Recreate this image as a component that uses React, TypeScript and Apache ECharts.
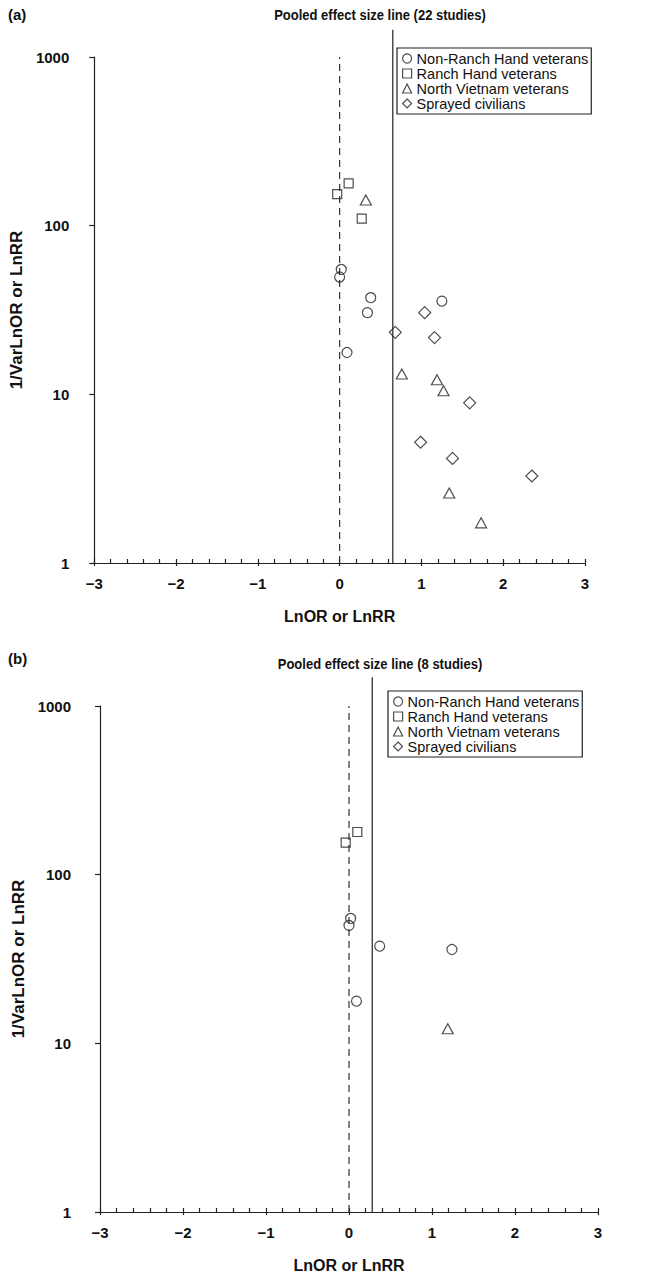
import React, { useEffect, useRef } from "react";
import * as echarts from "echarts";

// ---- data (LnOR/LnRR, 1/Var) ----
const nonRanchA = [[0.02, 55], [0.0, 49.6], [0.38, 37.4], [0.34, 30.5], [1.25, 35.7], [0.09, 17.7]];
const ranchA = [[0.11, 178], [-0.03, 154], [0.27, 110]];
const northA = [[0.32, 142], [0.76, 13.2], [1.19, 12.2], [1.27, 10.5], [1.34, 2.6], [1.73, 1.73]];
const sprayedA = [[1.04, 30.5], [0.68, 23.3], [1.16, 21.7], [1.59, 8.9], [0.99, 5.2], [1.38, 4.17], [2.35, 3.28]];

const nonRanchB = [[0.02, 55], [0.0, 50], [0.37, 37.7], [1.24, 36], [0.09, 17.8]];
const ranchB = [[0.1, 179], [-0.04, 155]];
const northB = [[1.19, 12.2]];
const sprayedB: number[][] = [];

const pooledA = 0.65;
const pooledB = 0.28;
const pooledTopA = 1450;
const pooledTopB = 1480;

const groupNames = ["Non-Ranch Hand veterans", "Ranch Hand veterans", "North Vietnam veterans", "Sprayed civilians"];
const groupSymbols = ["circle", "rect", "triangle", "diamond"];
const groupSizes = [10, 9, [11, 10], 12];

const xTickMin = -3;
const xTickMax = 3;
const yMin = 1;
const yMax = 1000;

const titleA = "Pooled effect size line (22 studies)";
const titleB = "Pooled effect size line (8 studies)";

const FONT = "Arial, 'Liberation Sans', Helvetica, sans-serif";
const INK = "#222";

export default function App() {
  const ref = useRef<HTMLDivElement>(null);
  useEffect(() => {
    if (!ref.current) return;
    const chart = echarts.init(ref.current, undefined, { renderer: "svg" });

    const panels = [
      { grid: { left: 88, top: 57, width: 497, height: 506 }, groups: [nonRanchA, ranchA, northA, sprayedA], pooled: pooledA, top: pooledTopA, yLabelMargin: 25, yNameGap: 56, legend: { left: 397, top: 48 } },
      { grid: { left: 100, top: 706, width: 498, height: 506 }, groups: [nonRanchB, ranchB, northB, sprayedB], pooled: pooledB, top: pooledTopB, yLabelMargin: 29, yNameGap: 68, legend: { left: 388, top: 691 } },
    ];

    const lineStyle = { color: INK, width: 1.2 };
    const xAxes: any[] = [];
    const yAxes: any[] = [];
    const series: any[] = [];
    const legends: any[] = [];

    panels.forEach((p, i) => {
      xAxes.push({
        type: "value", gridIndex: i, min: xTickMin, max: xTickMax, interval: 1,
        axisLine: { show: true, onZero: false, lineStyle },
        axisTick: { show: true, inside: true, length: 4, lineStyle },
        minorTick: { show: true, splitNumber: 5, length: 4, lineStyle },
        splitLine: { show: false }, minorSplitLine: { show: false },
        axisLabel: {
          formatter: (v: number) => String(v).replace("-", "\u2212"),
          fontFamily: FONT, fontWeight: "bold", fontSize: 15, color: "#111", margin: 13,
        },
        name: "LnOR or LnRR", nameLocation: "middle", nameGap: 45,
        nameTextStyle: { fontFamily: FONT, fontWeight: "bold", fontSize: 16, color: "#111" },
      });
      xAxes.push({
        type: "value", gridIndex: i, min: xTickMin, max: xTickMax, interval: 1, position: "bottom",
        axisLine: { show: false }, axisTick: { show: true, inside: false, length: 3, lineStyle },
        axisLabel: { show: false }, splitLine: { show: false },
      });
      yAxes.push({
        type: "log", logBase: 10, gridIndex: i, min: yMin, max: yMax,
        axisLine: { show: true, onZero: false, lineStyle },
        axisTick: { show: true, inside: false, length: 5, lineStyle },
        minorTick: { show: false }, splitLine: { show: false },
        axisLabel: {
          formatter: (v: number) => String(Math.round(v)),
          fontFamily: FONT, fontWeight: "bold", fontSize: 15, color: "#111", margin: p.yLabelMargin,
        },
        name: "1/VarLnOR or LnRR", nameLocation: "middle", nameGap: p.yNameGap, nameRotate: 90,
        nameTextStyle: { fontFamily: FONT, fontWeight: "bold", fontSize: 17, color: "#111" },
      });
      const xi = i * 2;
      series.push({
        type: "line", xAxisIndex: xi, yAxisIndex: i, data: [[0, yMin], [0, yMax]], symbol: "none", silent: true, z: 1,
        lineStyle: { color: "#333", width: 1.2, type: [7, 5] },
      });
      series.push({
        type: "line", xAxisIndex: xi, yAxisIndex: i, data: [[p.pooled, yMin], [p.pooled, p.top]], symbol: "none", silent: true, z: 1, clip: false,
        lineStyle: { color: INK, width: 1.2 },
      });
      p.groups.forEach((d, g) => {
        series.push({
          type: "scatter", name: groupNames[g], xAxisIndex: xi, yAxisIndex: i, data: d,
          symbol: groupSymbols[g], symbolSize: groupSizes[g], z: 3,
          itemStyle: { color: "rgba(0,0,0,0)", borderColor: INK, borderWidth: 1.2 },
        });
      });
      legends.push({
        data: groupNames.map((n, g) => ({ name: n, icon: groupSymbols[g] })),
        orient: "vertical", left: p.legend.left, top: p.legend.top,
        itemWidth: 9, itemHeight: 9, itemGap: 0, selectedMode: false,
        textStyle: { fontFamily: FONT, fontSize: 14.5, color: "#111", lineHeight: 14 },
        itemStyle: { color: "rgba(0,0,0,0)", borderColor: INK, borderWidth: 1.2 },
        borderColor: INK, borderWidth: 1.2, padding: [3, 3, 3, 5],
      });
    });

    chart.setOption({
      animation: false,
      backgroundColor: "#fff",
      grid: panels.map((p) => ({ ...p.grid, containLabel: false })),
      xAxis: xAxes,
      yAxis: yAxes,
      legend: legends,
      series,
      graphic: [
        { type: "text", x: 8, y: 7, style: { text: "(a)", font: `bold 15px ${FONT}`, fill: "#111" } },
        { type: "text", x: 380, y: 7, scaleX: 0.84, style: { text: titleA, font: `bold 15.5px ${FONT}`, fill: "#111", textAlign: "center" } },
        { type: "text", x: 8, y: 651, style: { text: "(b)", font: `bold 15px ${FONT}`, fill: "#111" } },
        { type: "text", x: 380, y: 656, scaleX: 0.84, style: { text: titleB, font: `bold 15.5px ${FONT}`, fill: "#111", textAlign: "center" } },
      ],
    });
    return () => chart.dispose();
  }, []);
  return <div ref={ref} style={{ position: "absolute", left: 0, top: 0, width: 653, height: 1276 }} />;
}
